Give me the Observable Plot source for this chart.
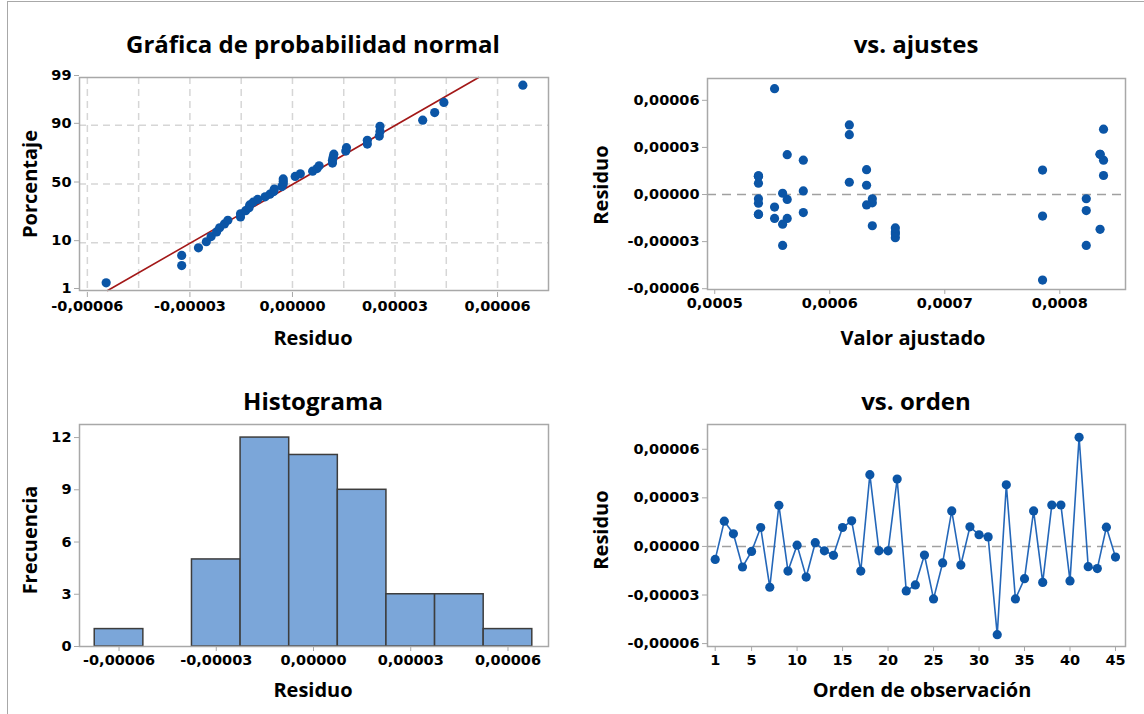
<!DOCTYPE html>
<html><head><meta charset="utf-8">
<script src="https://cdn.jsdelivr.net/npm/d3@7"></script>
<script src="https://cdn.jsdelivr.net/npm/@observablehq/plot@0.6"></script>
<style>
body{margin:0;background:#fff;font-family:"Open Sans",sans-serif;}
#root{position:relative;width:1144px;height:714px;overflow:hidden;background:#fff;}
#border{position:absolute;left:7px;top:1px;width:1140px;height:760px;border-left:1.5px solid #a8a8a8;border-top:1.5px solid #a8a8a8;}
.t{position:absolute;font-weight:700;color:#000;white-space:nowrap;transform:translate(-50%,-50%);line-height:1;}
.title{font-size:24px;}
.lab{font-size:20px;}
.rot{transform:translate(-50%,-50%) rotate(-90deg);}
.p{position:absolute;}
</style></head><body><div id="root"><div id="border"></div></div>
<script>
// ---- data ----
const observation = d3.range(1, 46);
const residuals = [
 -0.80e-5, 1.56e-5, 0.78e-5, -1.27e-5, -0.31e-5, 1.17e-5, -2.52e-5, 2.54e-5, -1.52e-5, 0.08e-5,
 -1.89e-5, 0.23e-5, -0.27e-5, -0.55e-5, 1.17e-5, 1.58e-5, -1.52e-5, 4.43e-5, -0.27e-5, -0.27e-5,
 4.16e-5, -2.75e-5, -2.38e-5, -0.53e-5, -3.24e-5, -1.02e-5, 2.19e-5, -1.15e-5, 1.21e-5, 0.72e-5,
 0.59e-5, -5.45e-5, 3.81e-5, -3.24e-5, -1.99e-5, 2.19e-5, -2.22e-5, 2.56e-5, 2.56e-5, -2.13e-5,
 6.74e-5, -1.25e-5, -1.37e-5, 1.19e-5, -0.66e-5];
const fitted = [
 5.52e-4, 7.85e-4, 6.17e-4, 5.38e-4, 5.63e-4, 5.38e-4, 6.57e-4, 5.63e-4, 5.63e-4, 5.59e-4,
 5.59e-4, 5.77e-4, 5.38e-4, 5.38e-4, 5.38e-4, 6.32e-4, 5.52e-4, 6.17e-4, 6.37e-4, 8.23e-4,
 8.38e-4, 6.57e-4, 6.57e-4, 6.37e-4, 5.59e-4, 8.23e-4, 5.77e-4, 5.77e-4, 8.38e-4, 5.38e-4,
 6.32e-4, 7.85e-4, 6.17e-4, 8.23e-4, 6.37e-4, 8.38e-4, 8.35e-4, 8.35e-4, 8.35e-4, 6.57e-4,
 5.52e-4, 5.38e-4, 7.85e-4, 5.38e-4, 6.32e-4];
const histCenters = [-6e-5, -4.5e-5, -3e-5, -1.5e-5, 0, 1.5e-5, 3e-5, 4.5e-5, 6e-5];
const histCounts  = [1, 0, 5, 12, 11, 9, 3, 3, 1];
const probTicks = [1, 10, 50, 90, 99];
const residTicks = [-6e-5, -3e-5, 0, 3e-5, 6e-5];
const residGrid = [-6e-5, -4.5e-5, -3e-5, -1.5e-5, 0, 1.5e-5, 3e-5, 4.5e-5, 6e-5];
const fitTicks = [5e-4, 6e-4, 7e-4, 8e-4];
const freqTicks = [0, 3, 6, 9, 12];
const orderTicks = [1, 5, 10, 15, 20, 25, 30, 35, 40, 45];

// ---- helpers ----
function probit(p){
 const a=[-3.969683028665376e+01,2.209460984245205e+02,-2.759285104469687e+02,1.383577518672690e+02,-3.066479806614716e+01,2.506628277459239e+00];
 const b=[-5.447609879822406e+01,1.615858368580409e+02,-1.556989798598866e+02,6.680131188771972e+01,-1.328068155288572e+01];
 const c=[-7.784894002430293e-03,-3.223964580411365e-01,-2.400758277161838e+00,-2.549732539343734e+00,4.374664141464968e+00,2.938163982698783e+00];
 const e=[7.784695709041462e-03,3.224671290700398e-01,2.445134137142996e+00,3.754408661907416e+00];
 const pl=0.02425, ph=1-pl; let q, r;
 if(p<pl){q=Math.sqrt(-2*Math.log(p));return (((((c[0]*q+c[1])*q+c[2])*q+c[3])*q+c[4])*q+c[5])/((((e[0]*q+e[1])*q+e[2])*q+e[3])*q+1);}
 if(p<=ph){q=p-0.5;r=q*q;return (((((a[0]*r+a[1])*r+a[2])*r+a[3])*r+a[4])*r+a[5])*q/(((((b[0]*r+b[1])*r+b[2])*r+b[3])*r+b[4])*r+1);}
 q=Math.sqrt(-2*Math.log(1-p));return -(((((c[0]*q+c[1])*q+c[2])*q+c[3])*q+c[4])*q+c[5])/((((e[0]*q+e[1])*q+e[2])*q+e[3])*q+1);
}
const fmt = n => v => { const s = Math.abs(v) < 1e-12 ? (0).toFixed(n) : v.toFixed(n); return s.replace(".", ","); };
const FRAME = "#a8a8a8", BLUE = "#0b55a6", LINE = "#2467b9";
const style = {fontFamily:"DejaVu Sans", fontSize:"14.5px", fontWeight:"700", color:"#000", background:"transparent", overflow:"visible"};
const axisOpts = {tickSize:5, stroke:FRAME, strokeOpacity:1, fill:"#000", label:null, tickPadding:3};

const root = document.getElementById("root");
function place(el, left, top){ el.classList.add("p"); el.style.left = left+"px"; el.style.top = top+"px"; root.appendChild(el); }
function text(str, x, y, cls){ const d = document.createElement("div"); d.className = "t " + cls; d.textContent = str; d.style.left = x+"px"; d.style.top = y+"px"; root.appendChild(d); }

// ---- panel 1: normal probability ----
const n = residuals.length;
const sorted = residuals.slice().sort(d3.ascending);
const npData = sorted.map((r, i) => ({x: r, y: probit((i + 1 - 0.3) / (n + 0.4))}));
const mu = d3.mean(residuals), sd = d3.deviation(residuals);
const zLo = probit(0.01), zHi = probit(0.99);
const fitLine = [zLo, zHi].map(z => ({x: mu + sd * z, y: z}));
const zTicks = probTicks.map(p => probit(p / 100));
const p1 = Plot.plot({
 width:570, height:270, marginLeft:79, marginRight:22, marginTop:17, marginBottom:40,
 style,
 x:{domain:[-6.23e-5, 7.49e-5]},
 y:{domain:[zLo, zHi]},
 marks:[
  Plot.gridX(residGrid, {stroke:"#d6d6d6", strokeOpacity:1, strokeWidth:1.5, strokeDasharray:"7,5"}),
  Plot.gridY(zTicks.slice(1, -1), {stroke:"#d6d6d6", strokeOpacity:1, strokeWidth:1.5, strokeDasharray:"7,5"}),
  Plot.line(fitLine, {x:"x", y:"y", stroke:"#a31818", strokeWidth:1.6}),
  Plot.dot(npData, {x:"x", y:"y", r:4.6, fill:BLUE}),
  Plot.frame({stroke:FRAME, strokeWidth:1.5}),
  Plot.axisX(residTicks, {...axisOpts, tickFormat:fmt(5), dy:2}),
  Plot.axisY(zTicks, {...axisOpts, tickFormat: z => probTicks[d3.minIndex(zTicks, t => Math.abs(t - z))], dy:-2})
 ]
});
place(p1, 0, 60);
text("Gráfica de probabilidad normal", 313, 44, "title");
text("Residuo", 313, 338, "lab");
text("Porcentaje", 30, 184, "lab rot");

// ---- panel 2: vs fits ----
const fitData = residuals.map((r, i) => ({x: fitted[i], y: r}));
const p2 = Plot.plot({
 width:554, height:270, marginLeft:117, marginRight:19, marginTop:18, marginBottom:41,
 style,
 x:{domain:[4.937e-4, 8.571e-4]},
 y:{domain:[-6.05e-5, 7.39e-5]},
 marks:[
  Plot.ruleY([0], {stroke:"#a0a0a0", strokeWidth:1.6, strokeDasharray:"9,6"}),
  Plot.dot(fitData, {x:"x", y:"y", r:4.6, fill:BLUE}),
  Plot.frame({stroke:FRAME, strokeWidth:1.5}),
  Plot.axisX(fitTicks, {...axisOpts, tickFormat:fmt(4)}),
  Plot.axisY(residTicks, {...axisOpts, tickFormat:fmt(5)})
 ]
});
place(p2, 590, 60);
text("vs. ajustes", 916, 44, "title");
text("Valor ajustado", 913, 338, "lab");
text("Residuo", 601, 185, "lab rot");

// ---- panel 3: histogram ----
const binW = histCenters[1] - histCenters[0];
const histData = histCenters.map((c, i) => ({x1: c - binW / 2, x2: c + binW / 2, y: histCounts[i]})).filter(d => d.y > 0);
const p3 = Plot.plot({
 width:570, height:280, marginLeft:79, marginRight:22, marginTop:24, marginBottom:34,
 style,
 x:{domain:[-7.22e-5, 7.25e-5]},
 y:{domain:[0, 12.75]},
 marks:[
  Plot.rectY(histData, {x1:"x1", x2:"x2", y:"y", fill:"#7ba6d9", stroke:"#3d3d3d", strokeWidth:1.5}),
  Plot.frame({stroke:FRAME, strokeWidth:1.5}),
  Plot.axisX(residTicks, {...axisOpts, tickFormat:fmt(5)}),
  Plot.axisY(freqTicks, {...axisOpts, tickFormat:d => String(d)})
 ]
});
place(p3, 0, 400);
text("Histograma", 313, 401, "title");
text("Residuo", 313, 690, "lab");
text("Frecuencia", 30, 540, "lab rot");

// ---- panel 4: vs order ----
const orderData = residuals.map((r, i) => ({x: observation[i], y: r}));
const p4 = Plot.plot({
 width:554, height:280, marginLeft:117, marginRight:19, marginTop:24, marginBottom:34,
 style,
 x:{domain:[0.153, 46.1]},
 y:{domain:[-6.18e-5, 7.53e-5]},
 marks:[
  Plot.ruleY([0], {stroke:"#a0a0a0", strokeWidth:1.6, strokeDasharray:"9,6"}),
  Plot.line(orderData, {x:"x", y:"y", stroke:LINE, strokeWidth:1.6}),
  Plot.dot(orderData, {x:"x", y:"y", r:4.6, fill:BLUE}),
  Plot.frame({stroke:FRAME, strokeWidth:1.5}),
  Plot.axisX(orderTicks, {...axisOpts, tickFormat:d => String(d)}),
  Plot.axisY(residTicks, {...axisOpts, tickFormat:fmt(5)})
 ]
});
place(p4, 590, 400);
text("vs. orden", 916, 401, "title");
text("Orden de observación", 922, 690, "lab");
text("Residuo", 601, 530, "lab rot");
</script></body></html>
